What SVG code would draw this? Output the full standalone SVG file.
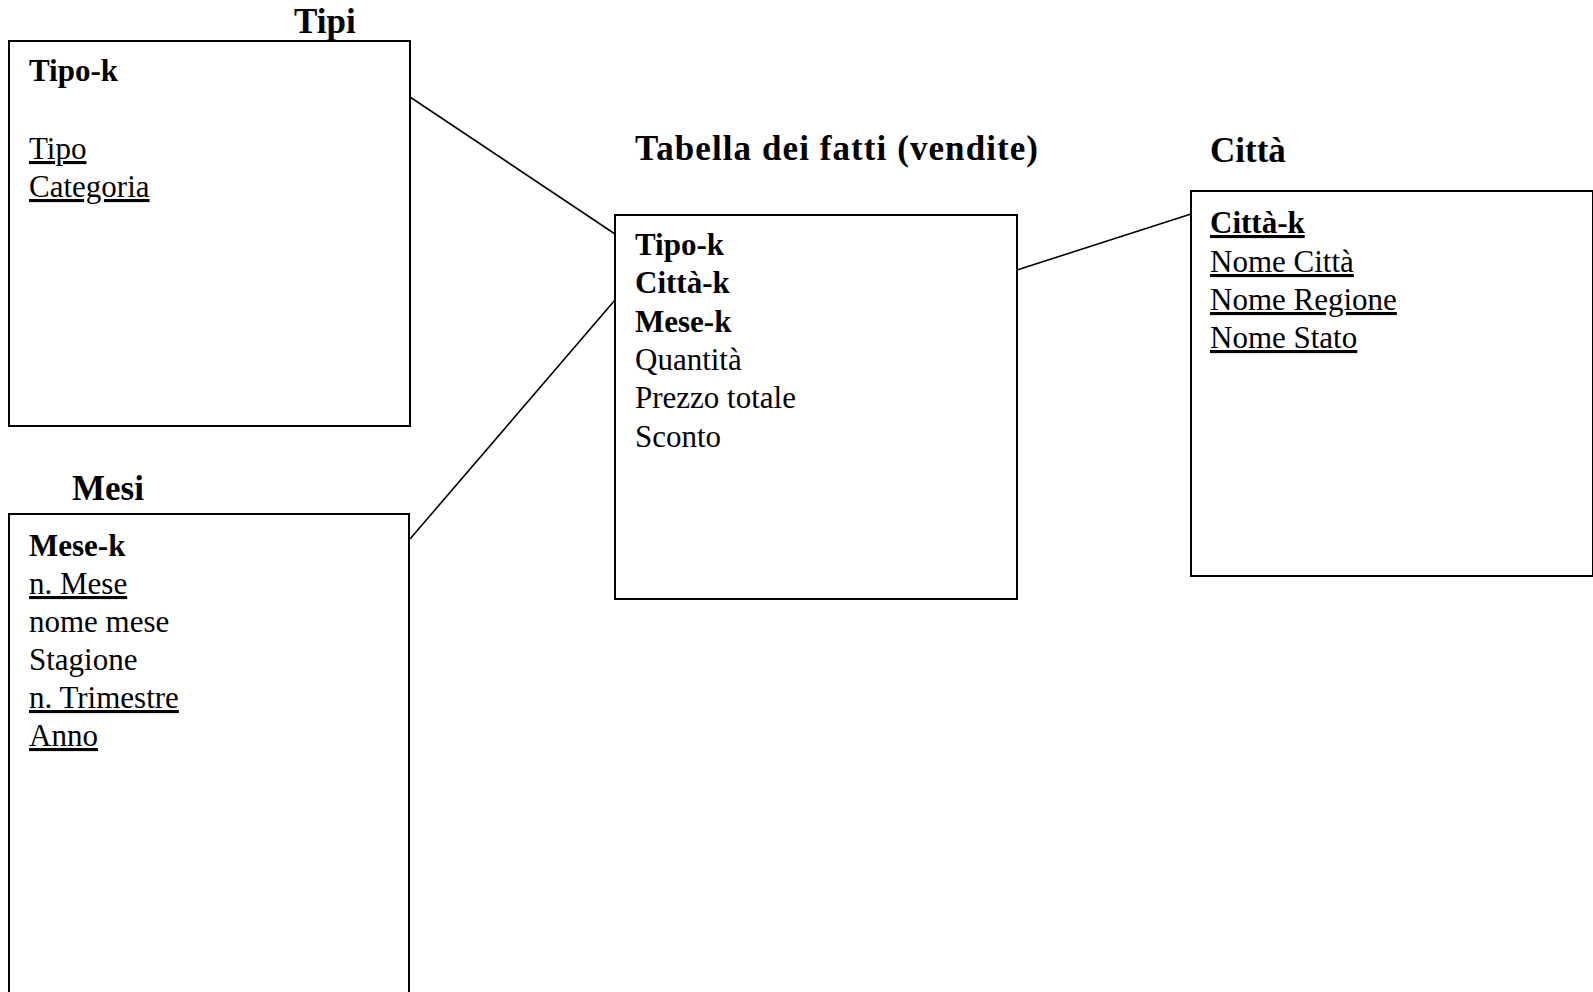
<svg xmlns="http://www.w3.org/2000/svg" width="1593" height="992" viewBox="0 0 1593 992">
<style>
  .box { fill: #fff; stroke: #000; stroke-width: 2; }
  .conn line { stroke: #000; stroke-width: 1.6; }
  text { font-family: "Liberation Serif", "Times New Roman", serif; fill: #000; }
  .title { font-size: 35px; font-weight: bold; }
  .row { font-size: 31px; }
  .b { font-weight: bold; }
  .u { text-decoration: underline; }
</style>
<rect width="1593" height="992" fill="#fff"/>
<g class="conn">
  <line x1="410" y1="97" x2="615" y2="234"/>
  <line x1="410" y1="539" x2="615" y2="300"/>
  <line x1="1017" y1="270" x2="1191" y2="214"/>
</g>
<g id="tipi">
  <rect class="box" x="9" y="41" width="401" height="385"/>
  <text class="title" x="294" y="33">Tipi</text>
  <text class="row b" x="29" y="81">Tipo-k</text>
  <text class="row u" x="29" y="159">Tipo</text>
  <text class="row u" x="29" y="197">Categoria</text>
</g>
<g id="mesi">
  <rect class="box" x="9" y="514" width="400" height="490"/>
  <text class="title" x="72" y="500">Mesi</text>
  <text class="row b" x="29" y="556">Mese-k</text>
  <text class="row u" x="29" y="594">n. Mese</text>
  <text class="row" x="29" y="632">nome mese</text>
  <text class="row" x="29" y="670">Stagione</text>
  <text class="row u" x="29" y="708">n. Trimestre</text>
  <text class="row u" x="29" y="746">Anno</text>
</g>
<g id="fatti">
  <rect class="box" x="615" y="215" width="402" height="384"/>
  <text class="title" x="635" y="160" textLength="403">Tabella dei fatti (vendite)</text>
  <text class="row b" x="635" y="255">Tipo-k</text>
  <text class="row b" x="635" y="293">Città-k</text>
  <text class="row b" x="635" y="332">Mese-k</text>
  <text class="row" x="635" y="370">Quantità</text>
  <text class="row" x="635" y="408">Prezzo totale</text>
  <text class="row" x="635" y="447">Sconto</text>
</g>
<g id="citta">
  <rect class="box" x="1191" y="191" width="402" height="385"/>
  <text class="title" x="1210" y="162">Città</text>
  <text class="row b u" x="1210" y="233">Città-k</text>
  <text class="row u" x="1210" y="272">Nome Città</text>
  <text class="row u" x="1210" y="310">Nome Regione</text>
  <text class="row u" x="1210" y="348">Nome Stato</text>
</g>
</svg>
